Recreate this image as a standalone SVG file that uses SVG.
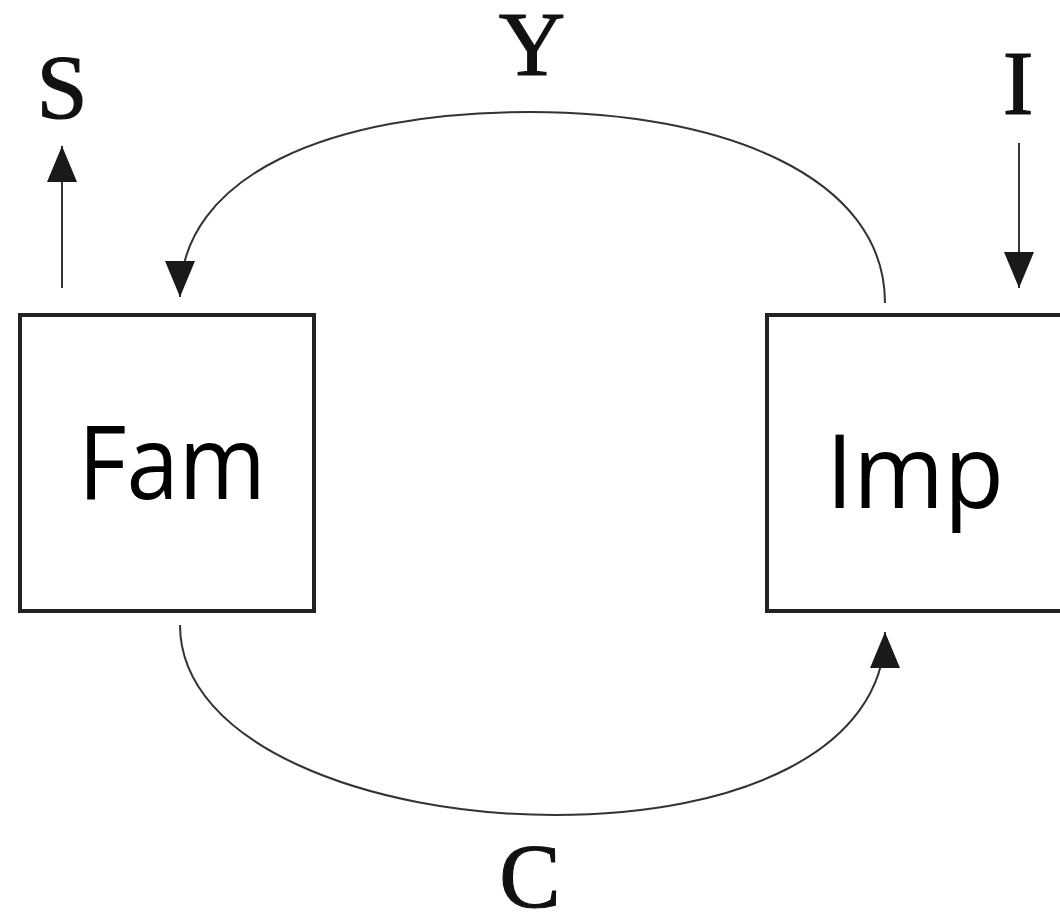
<svg xmlns="http://www.w3.org/2000/svg" width="1060" height="916" viewBox="0 0 1060 916">
<defs>
<style>
.box{fill:#fff;stroke:#222;stroke-width:4}
.lbl{font-family:"Liberation Serif","Times New Roman",serif;font-size:92px;fill:#111;stroke:#111;stroke-width:1.2;text-anchor:middle}
.nt{font-family:"Open Sans","Noto Sans",sans-serif;font-size:102px;fill:#000}
.con{fill:none;stroke:#333;stroke-width:2}
</style>
<marker id="ah" viewBox="0 0 36 30" refX="36" refY="15" markerWidth="36" markerHeight="30" markerUnits="userSpaceOnUse" orient="auto">
<path d="M0,0 L36,15 L0,30 Z" fill="#1a1a1a"/>
</marker>
</defs>
<rect width="1060" height="916" fill="#fff"/>
<g id="fam">
<rect class="box" x="20" y="315" width="294" height="296"/>
<text class="nt" x="78" y="499" textLength="188" lengthAdjust="spacingAndGlyphs">Fam</text>
</g>
<g id="imp">
<rect class="box" x="767" y="315" width="300" height="296"/>
<text class="nt" x="826" y="508" textLength="178" lengthAdjust="spacingAndGlyphs">Imp</text>
</g>
<g id="labels">
<text class="lbl" x="62" y="118">S</text>
<text class="lbl" x="532" y="75">Y</text>
<text class="lbl" x="1018" y="114">I</text>
<text class="lbl" x="530" y="907">C</text>
</g>
<g id="connectors">
<path class="con" d="M62,288 L62,146" marker-end="url(#ah)"/>
<path class="con" d="M1019,143 L1019,288" marker-end="url(#ah)"/>
<path class="con" d="M885,303 C885,175 720,112 530,112 C330,112 180,175 180,297" marker-end="url(#ah)"/>
<path class="con" d="M180,625 C180,745 370,815 555,815 C740,815 885,750 885,632" marker-end="url(#ah)"/>
</g>
</svg>
